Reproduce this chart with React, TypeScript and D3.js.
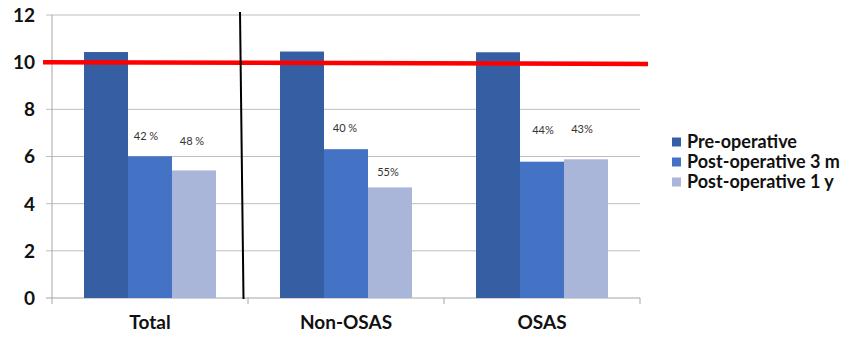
import React, { useEffect, useRef } from "react";
import * as d3 from "d3";

const categories = ["Total", "Non-OSAS", "OSAS"];
const seriesNames = ["Pre-operative", "Post-operative 3 m", "Post-operative 1 y"];
const preOperative = [10.43, 10.45, 10.42];
const postOperative3m = [6.01, 6.31, 5.78];
const postOperative1y = [5.41, 4.69, 5.88];
const reductionLabels3m = ["42 %", "40 %", "44%"];
const reductionLabels1y = ["48 %", "55%", "43%"];
const yTicks = [0, 2, 4, 6, 8, 10, 12];
const thresholdLine = [10, 9.92];

const colors = ["#365FA3", "#4472C4", "#A9B6DA"];

export default function App() {
  const ref = useRef<SVGSVGElement>(null);

  useEffect(() => {
    const svg = d3.select(ref.current);
    svg.selectAll("*").remove();

    const W = 858, H = 339;
    const left = 52, right = 640, top = 15, bottom = 298;

    const x0 = d3.scaleBand<string>().domain(categories).range([left, right]).paddingInner(0).paddingOuter(0);
    const x1 = d3.scaleBand<string>().domain(seriesNames).range([0, x0.bandwidth()]).paddingInner(0).paddingOuter(0.727);
    const y = d3.scaleLinear().domain([0, 12]).range([bottom, top]);

    const font = "Lato, 'Open Sans', sans-serif";

    // gridlines
    svg.append("g").selectAll("line").data(yTicks.filter((t) => t > 0)).join("line")
      .attr("x1", left - 6).attr("x2", right)
      .attr("y1", (d) => y(d)).attr("y2", (d) => y(d))
      .attr("stroke", "#BEBEBE").attr("stroke-width", 1);

    // axis lines
    svg.append("line").attr("x1", left).attr("x2", left).attr("y1", top).attr("y2", bottom)
      .attr("stroke", "#A6A6A6");
    svg.append("line").attr("x1", left - 6).attr("x2", right).attr("y1", bottom).attr("y2", bottom)
      .attr("stroke", "#A6A6A6");

    // category boundary ticks
    const bounds = categories.map((c) => x0(c)!).concat([right]);
    svg.append("g").selectAll("line").data(bounds).join("line")
      .attr("x1", (d) => d).attr("x2", (d) => d)
      .attr("y1", bottom).attr("y2", bottom + 6)
      .attr("stroke", "#A6A6A6");

    // y tick labels
    svg.append("g").selectAll("text").data(yTicks).join("text")
      .attr("x", 35).attr("y", (d) => y(d)).attr("dy", "0.36em")
      .attr("text-anchor", "end")
      .attr("font-family", font).attr("font-weight", "bold").attr("font-size", 19)
      .attr("fill", "#111").text((d) => d);

    // bars
    const series = [preOperative, postOperative3m, postOperative1y];
    series.forEach((vals, si) => {
      svg.append("g").selectAll("rect").data(vals).join("rect")
        .attr("x", (_, i) => x0(categories[i])! + x1(seriesNames[si])!)
        .attr("width", x1.bandwidth())
        .attr("y", (d) => y(d))
        .attr("height", (d) => bottom - y(d))
        .attr("fill", colors[si]);
    });

    // reduction labels above the post-operative bars
    const lbl = (labels: string[], si: number, offsets: number[], dx: number[]) => {
      svg.append("g").selectAll("text").data(labels).join("text")
        .attr("x", (_, i) => x0(categories[i])! + x1(seriesNames[si])! + x1.bandwidth() / 2 + dx[i])
        .attr("y", (_, i) => y(series[si][i]) - offsets[i])
        .attr("text-anchor", "middle")
        .attr("font-family", font).attr("font-size", 11)
        .attr("fill", "#333").text((d) => d);
    };
    lbl(reductionLabels3m, 1, [16, 17, 28], [-4, -1, 1]);
    lbl(reductionLabels1y, 2, [25, 11, 26], [-2, -2, -4]);

    // category labels
    svg.append("g").selectAll("text").data(categories).join("text")
      .attr("x", (d) => x0(d)! + x0.bandwidth() / 2).attr("y", 329)
      .attr("text-anchor", "middle")
      .attr("font-family", font).attr("font-weight", "bold").attr("font-size", 19)
      .attr("fill", "#111").text((d) => d);

    // threshold line
    svg.append("line")
      .attr("x1", 43).attr("x2", 648)
      .attr("y1", y(thresholdLine[0])).attr("y2", y(thresholdLine[1]))
      .attr("stroke", "#FF0000").attr("stroke-width", 4.5);

    // divider between Total and subgroups
    svg.append("line")
      .attr("x1", 240).attr("x2", 243.5)
      .attr("y1", 12).attr("y2", bottom + 1)
      .attr("stroke", "#000").attr("stroke-width", 2);

    // legend
    const lg = svg.append("g").attr("transform", "translate(672,142)");
    seriesNames.forEach((name, i) => {
      const g = lg.append("g").attr("transform", `translate(0,${i * 20})`);
      g.append("rect").attr("x", 0).attr("y", -4.5).attr("width", 9).attr("height", 9).attr("fill", colors[i]);
      g.append("text").attr("x", 15).attr("y", 0).attr("dy", "0.36em")
        .attr("font-family", font).attr("font-weight", "bold").attr("font-size", 18)
        .attr("fill", "#111").text(name);
    });

    svg.attr("width", W).attr("height", H);
  }, []);

  return (
    <svg ref={ref} width={858} height={339}
      style={{ position: "absolute", left: 0, top: 0, background: "#fff" }} />
  );
}
